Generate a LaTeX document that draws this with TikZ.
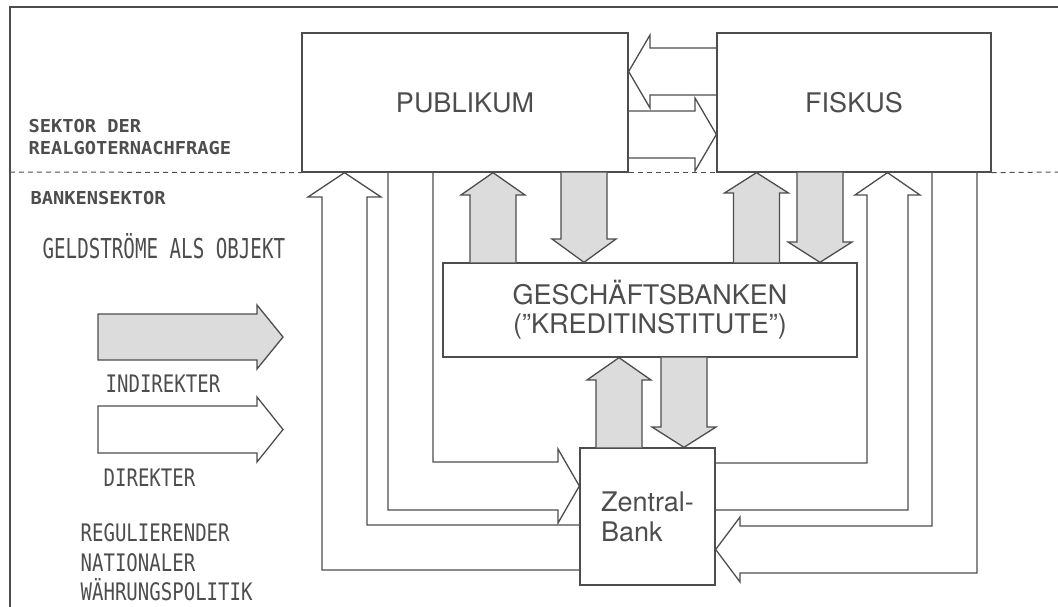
\documentclass[tikz,border=0pt]{standalone}
\usepackage{fontspec}
\setmainfont{TeX Gyre Heros}
\newfontfamily\labmono[FakeStretch=1.05]{DejaVu Sans Mono}
\newfontfamily\legmono[FakeStretch=0.79]{DejaVu Sans Mono}
\newfontfamily\titmono[FakeStretch=0.70]{DejaVu Sans Mono}
\usepackage{tikz}
\definecolor{ink}{HTML}{4D4D4D}
\definecolor{shade}{HTML}{DCDCDC}

\begin{document}
\begin{tikzpicture}[x=1pt, y=-1pt, color=ink, line width=1.3pt,
  box/.style={draw=ink, rectangle, inner sep=0pt, align=center,
              font=\fontsize{27}{29}\selectfont},
  wband/.style={draw=ink, line join=miter},
  gband/.style={draw=ink, fill=shade, line join=miter},
  lab/.style={anchor=north west, inner sep=0pt, align=left},
  small/.style={lab, font=\labmono\bfseries\fontsize{17.8}{21.5}\selectfont},
  legend/.style={lab, font=\legmono\fontsize{24.1}{29.5}\selectfont},
  sectorline/.style={draw=ink, dash pattern=on 5pt off 4pt, line width=1pt}]

  \useasboundingbox (0,0) rectangle (1058,607);
  \draw[line width=1.6pt] (10,607) -- (10,7) -- (1058,7);

  % boxes
  \node[box, minimum width=326pt, minimum height=139pt] (pub) at (465,102.5) {PUBLIKUM};
  \node[box, minimum width=274pt, minimum height=139pt] (fis) at (854,102.5) {FISKUS};
  \node[box, minimum width=414pt, minimum height=94pt] (gb) at (650,310)
    {GESCHÄFTSBANKEN\\("KREDITINSTITUTE")};
  \node[box, minimum width=135pt, minimum height=137pt, align=left,
        font=\fontsize{27}{30}\selectfont] (zb) at (647.5,516.5) {Zentral-\\Bank};

  % left texts
  \node[small] (sek) at (28,119) {SEKTOR DER\\REALGOTERNACHFRAGE};
  \node[small] (bks) at (30,191) {BANKENSEKTOR};
  \node[lab, anchor=base west, font=\titmono\fontsize{27.4}{30}\selectfont] (geld)
    at (42,258) {GELDSTRÖME ALS OBJEKT};
  \node[legend] (ind) at (105,374) {INDIREKTER};
  \node[legend] (dir) at (103,468) {DIREKTER};
  \node[legend] (reg) at (80,523) {REGULIERENDER\\NATIONALER\\WÄHRUNGSPOLITIK};

  % sector border
  \draw[sectorline] (10,172) -- (pub.south west);
  \draw[sectorline] (pub.south east) -- (fis.south west);
  \draw[sectorline] (fis.south east) -- (1058,172);

  % legend arrows
  \filldraw[gband] (98,314) -- (257,314) -- (257,305) -- (283,337) -- (257,369)
    -- (257,360) -- (98,360) -- cycle;
  \draw[wband] (98,406) -- (257,406) -- (257,397) -- (283,429.5) -- (257,462)
    -- (257,453) -- (98,453) -- cycle;

  % fiskus <-> publikum
  \draw[wband] (fis.west |- 0,48) -- (650,48) -- (650,35) -- (pub.east |- 0,71.5)
    -- (650,108) -- (650,95) -- (fis.west |- 0,95);
  \draw[wband] (pub.east |- 0,111) -- (695,111) -- (695,98) -- (fis.west |- 0,134.5)
    -- (695,171) -- (695,158) -- (pub.east |- 0,158);

  % zentralbank -> publikum
  \draw[wband] (zb.west |- 0,525) -- (367,525) -- (367,197) -- (381,197)
    -- (pub.south -| 344.5,0) -- (308,197) -- (322,197) -- (322,570) -- (zb.west |- 0,570);
  % publikum -> zentralbank
  \draw[wband] (pub.south -| 388,0) -- (388,510) -- (558,510) -- (558,523)
    -- (zb.west |- 0,486) -- (558,449) -- (558,462) -- (433,462) -- (pub.south -| 433,0);
  % zentralbank -> fiskus
  \draw[wband] (zb.east |- 0,463) -- (867,463) -- (867,195) -- (855,195)
    -- (fis.south -| 887.5,0) -- (920,195) -- (908,195) -- (908,510) -- (zb.east |- 0,510);
  % fiskus -> zentralbank
  \draw[wband] (fis.south -| 932,0) -- (932,526) -- (740,526) -- (740,517)
    -- (zb.east |- 0,549.5) -- (740,582) -- (740,573) -- (977,573) -- (fis.south -| 977,0);

  % indirect flows via geschaeftsbanken
  \foreach \cx/\src/\dst/\yb in {493/gb.north/pub.south/195, 756.5/gb.north/fis.south/193,
      619/zb.north/gb.south/380, 584/pub.south/gb.north/239,
      820/fis.south/gb.north/242, 684/gb.south/zb.north/427}
    \filldraw[gband] (\src -| \cx-23,0) -- (\cx-23,\yb) -- (\cx-32,\yb) -- (\dst -| \cx,0)
      -- (\cx+32,\yb) -- (\cx+23,\yb) -- (\src -| \cx+23,0);
\end{tikzpicture}
\end{document}
